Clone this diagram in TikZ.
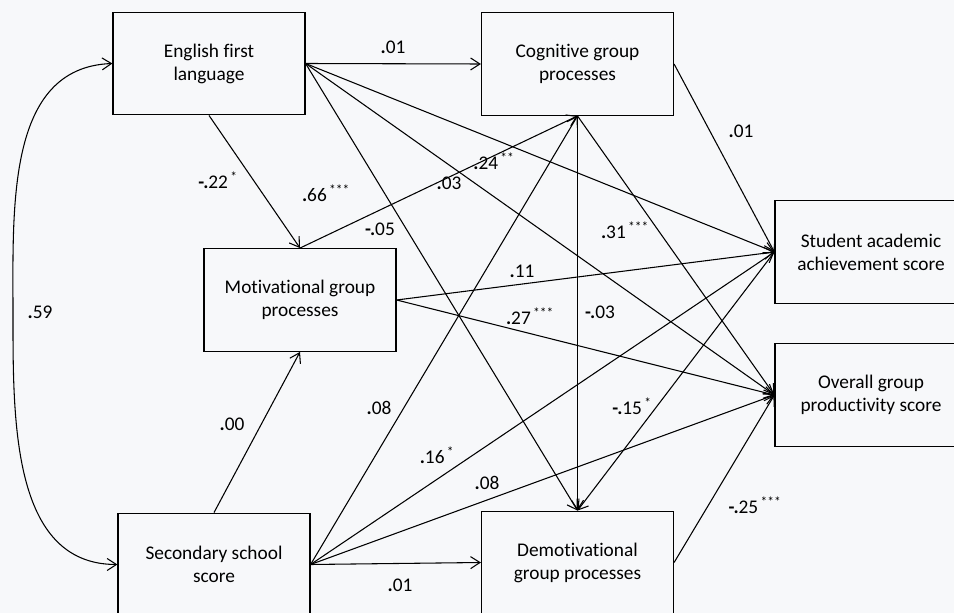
\documentclass[tikz,border=0pt]{standalone}
\usepackage{fontspec}
\setmainfont{Carlito}[Ligatures=NoCommon]
\usetikzlibrary{arrows.meta}
\usetikzlibrary{calc}
\definecolor{paper}{RGB}{247,248,250}
\newcommand{\sig}[1]{\textsuperscript{\,#1}}
\newcommand{\dpt}{\textbf{.}}
\newcommand{\mpt}{\textbf{-.}}

\begin{document}
\begin{tikzpicture}[x=0.75pt,y=-0.75pt,
	font=\fontsize{14.5}{17.3}\selectfont,
	>={Straight Barb[length=7pt,width=9pt]},
	box/.style={draw,line width=0.9pt,minimum width=144pt,minimum height=77pt,align=center,inner sep=2pt},
	coef/.style={inner sep=1pt}]
\fill[paper] (0,0) rectangle (954,613);
\useasboundingbox (0,0) rectangle (954,613);

\node[box] (eng) at (209,63.5)  {English first\\language};
\node[box] (mot) at (300,300)   {Motivational group\\processes};
\node[box] (sec) at (214,564.5) {Secondary school\\score};
\node[box] (cog) at (577.5,64)  {Cognitive group\\processes};
\node[box] (dem) at (577.5,562.5) {Demotivational\\group processes};
\node[box] (stu) at (871,252)   {Student academic\\achievement score};
\node[box] (ovr) at (871,395)   {Overall group\\productivity score};
\coordinate (bend) at (13,313);

\draw[<->,line width=0.8pt] (eng.west) .. controls +(-106,4) and +(0,-106) .. (bend)
	.. controls +(0,106) and +(-106,0) .. (sec.west);

\path[->,line width=0.8pt]
(eng.east)  edge (cog.west)
(eng.east)  edge (stu.west)
(eng.east)  edge (ovr.west)
(eng.east)  edge (dem.north)
(eng.south) edge (mot.north)
(mot.north) edge (cog.south)
(mot.east)  edge (stu.west)
(mot.east)  edge (ovr.west)
(sec.north) edge (mot.south)
(sec.east)  edge (cog.south)
(sec.east)  edge (stu.west)
(sec.east)  edge (ovr.west)
(sec.east)  edge (dem.west)
(cog.south) edge (dem.north)
(cog.south) edge (ovr.west)
(cog.east)  edge (stu.west)
(stu.west)  edge (dem.north)
(dem.east)  edge (ovr.west);

\foreach \x/\y/\t [count=\i] in {
	393/47/\dpt01, 218/180/\mpt22\sig{*}, 326/193/\dpt66\sig{***}, 380/229/\mpt05,
	449/183/\dpt03, 494/161/\dpt24\sig{**}, 741/131/\dpt01, 625/230/\dpt31\sig{***},
	522/271/\dpt11, 530/316/\dpt27\sig{***}, 600/312/\mpt03, 632/406/\mpt15\sig{*},
	755/505/\mpt25\sig{***}, 232/424/\dpt00, 379/408/\dpt08, 437/455/\dpt16\sig{*},
	487/483/\dpt08, 400/585/\dpt01, 40/312/\dpt59}
	{\node[coef] (c\i) at (\x,\y) {\t};}
\end{tikzpicture}
\end{document}
